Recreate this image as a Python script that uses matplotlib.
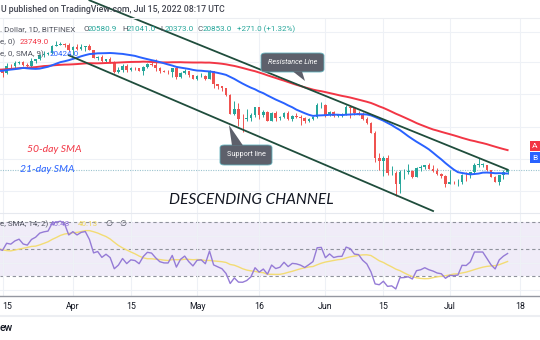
import numpy as np
import pandas as pd
import matplotlib
matplotlib.use("Agg")
import matplotlib.pyplot as plt
import matplotlib.dates as mdates
from matplotlib.patches import FancyBboxPatch, Polygon, Rectangle
from matplotlib.lines import Line2D
from matplotlib.ticker import NullLocator

plt.rcParams['font.family'] = ['Roboto', 'DejaVu Sans']

# BTC/USD daily (Bitfinex)
# closes before the visible window, only used for the averages and the RSI
pre_closes = [36280, 36660, 36960, 36830, 37160, 37710, 38170, 37920, 38490,
              38720, 36900, 37320, 41570, 41410, 42410, 43840, 44050, 44390, 43530,
              42380, 42220, 42060, 42560, 44550, 43950, 40560, 40010, 40120, 38370,
              37000, 38250, 37270, 38360, 39240, 39130, 37710, 43190,
              44420, 43920, 42460, 39150, 39400, 38420, 38020, 38740, 41980, 39440,
              38780, 38820, 37790]

start_date = '2022-03-14'
first_open = 37800
closes = [39670, 39280, 41120, 40920, 41760, 42220, 41250, 41030, 42350, 42910,
          43970, 44310, 44500, 46800, 47120, 47430, 47070, 45520,
          46310, 45830, 46410, 46600, 45500, 43200, 43440, 42290, 42800, 42150,
          39520, 40080, 41150, 39940, 40550, 40400, 39700, 40800, 41500, 41360,
          40480, 39710, 39470, 39450, 40430, 38120, 39240, 39740, 38600, 37650,
          38470, 38530, 37750, 39690, 36550, 36020, 35500, 34080, 30100, 31020,
          29100, 29030, 29300, 29850, 31320, 29900, 30420, 28700, 30300, 29200,
          29430, 30300, 29100, 29650, 29520, 29200, 28630, 29030, 29460, 31730,
          31800,
          29800, 30450, 29700, 29870, 29900, 31370, 31120, 30200, 30110, 29100,
          28400, 26600, 22500, 22130, 22600, 20400, 20470, 19000, 20580, 20600,
          20710, 19980, 21100, 21230, 21500, 21030, 20720, 20270, 20100, 19000,
          19300, 19250, 19300, 20230, 20200, 20550, 21600, 21600, 21600, 20850,
          19970, 19330, 20200, 20580, 20853]
highs = [39900, 39870, 41700, 41450, 42300, 42390, 42280, 41700, 43350, 43000,
         44250, 45100, 44790, 46900, 48190, 48100, 47700, 47600,
         46700, 47200, 47450, 46850, 47200, 45500, 43900, 43950, 42800, 43400,
         42400, 40700, 41550, 41500, 40850, 40700, 40600, 41100, 41750, 42150,
         42950, 40780, 39980, 39900, 40600, 40800, 39450, 40350, 39450, 38800,
         38650, 39150, 38650, 39900, 39800, 36600, 36100, 35500, 34240, 32650,
         32200, 30000, 30950, 30300, 31400, 31300, 30780, 30650, 30500, 30700,
         29600, 30450, 30650, 29800, 30150, 29850, 29350, 29200, 29500, 32200,
         32400,
         31950, 30650, 30650, 29950, 30150, 31750, 31550, 31300, 30650, 30350,
         29450, 28550, 26880, 23300, 22800, 22950, 21350, 20750, 20800, 21000,
         21700, 20850, 21200, 21500, 21550, 21850, 21500, 21150, 20400, 20150,
         20850, 19400, 19650, 20300, 20650, 20650, 21800, 22500, 21850, 21600,
         20850, 20050, 20250, 20850, 21041]
lows = [37600, 38100, 38900, 40550, 40200, 41500, 40950, 40500, 40880, 41850,
        42600, 43600, 44100, 44450, 46700, 46950, 46550, 45200,
        44200, 45650, 45600, 45150, 45400, 43150, 42750, 42150, 42150, 41900,
        39200, 39300, 39550, 39570, 39800, 40050, 39600, 38600, 40600, 40900,
        39800, 39200, 39340, 38950, 38200, 37750, 37900, 38900, 38200, 37600,
        37400, 38100, 37550, 37700, 35600, 35300, 34800, 33700, 30050, 29800,
        27700, 26700, 28750, 28600, 29450, 29100, 29450, 28600, 28700, 28750,
        28950, 29250, 28900, 28700, 29300, 28000, 28280, 28550, 28850, 29300,
        31250,
        29350, 29600, 29500, 29500, 29500, 29900, 29250, 29900, 29900, 28900,
        28100, 26550, 22000, 20850, 20100, 20250, 20250, 17600, 17950, 19700,
        20350, 19800, 19900, 20750, 20950, 20950, 20550, 20200, 19850, 18650,
        19000, 19000, 18800, 19050, 19350, 19800, 20300, 21200, 21300, 20700,
        19900, 19250, 18950, 19650, 20373]

# channel lines drawn on the chart (date, price)
upper_line_dates = ['2022-04-05', '2022-07-15']
upper_line_prices = [62900, 20900]
lower_line_dates = ['2022-03-31', '2022-06-27']
lower_line_prices = [43990, 15970]

tick_dates = ['2022-03-15', '2022-04-01', '2022-04-15', '2022-05-01', '2022-05-16',
              '2022-06-01', '2022-06-15', '2022-07-01', '2022-07-18']
tick_labels = ['15', 'Apr', '15', 'May', '16', 'Jun', '15', 'Jul', '18']
grid_prices = [51200, 42100, 34200, 27600, 22400, 18200]
rsi_grid = [20, 40, 60]
rsi_bands = [30, 50, 70]

UP, DOWN = '#26a69a', '#ef5350'
GREY = '#50535e'

W, H = 540, 340
fig = plt.figure(figsize=(W / 100, H / 100), dpi=100)


def fx(px):
    return px / W


def fy(py):
    return 1 - py / H


ax = fig.add_axes([0, fy(213), 1, (213 - 18) / H])
rx = fig.add_axes([0, fy(296), 1, (296 - 213) / H], sharex=ax)

# indicators
all_closes = pd.Series(pre_closes + closes, dtype=float)
n = len(closes)
sma50 = all_closes.rolling(50).mean().values[-n:]
sma21 = all_closes.rolling(21).mean().values[-n:]
delta = all_closes.diff()
gain = delta.clip(lower=0)
loss = -delta.clip(upper=0)
avg_gain = gain.ewm(alpha=1 / 14, adjust=False).mean()
avg_loss = loss.ewm(alpha=1 / 14, adjust=False).mean()
rsi = 100 - 100 / (1 + avg_gain / avg_loss)
rsi_ma = rsi.rolling(14).mean()
rsi = rsi.values[-n:]
rsi_ma = rsi_ma.values[-n:]

dates = pd.date_range(start_date, periods=n, freq='D')
x = mdates.date2num(dates)
o = np.array([first_open] + closes[:-1], dtype=float)
c = np.array(closes, dtype=float)
hi = np.array(highs, dtype=float)
lo = np.array(lows, dtype=float)
cols = [UP if cc >= oo else DOWN for oo, cc in zip(o, c)]

# price pane
ax.set_yscale('log')
ax.vlines(x, lo, hi, colors=cols, linewidth=0.7, zorder=3)
ax.bar(x, np.maximum(np.abs(c - o), c * 0.002), bottom=np.minimum(o, c), width=0.62,
       color=cols, linewidth=0, zorder=4)
ax.plot(x, sma50, color='#f23645', lw=1.4, zorder=5)
ax.plot(x, sma21, color='#2962ff', lw=1.4, zorder=5)
ax.plot(mdates.date2num(pd.to_datetime(upper_line_dates)), upper_line_prices,
        color='#1f4d3c', lw=1.3, zorder=6, clip_on=False)
ax.plot(mdates.date2num(pd.to_datetime(lower_line_dates)), lower_line_prices,
        color='#1f4d3c', lw=1.3, zorder=6)
ax.axhline(closes[-1], color='#9cc4cf', lw=0.8, ls=(0, (1, 1.2)), zorder=2)

d0 = mdates.date2num(pd.Timestamp('2022-03-15'))
ppd = 4.14
ax.set_xlim(d0 - 2.5 / ppd, d0 + 537.5 / ppd)
last = closes[-1]
ax.set_ylim(last * np.exp((170 - 213) / 153.7), last * np.exp((170 - 18) / 153.7))
ax.set_yticks(grid_prices)
ax.yaxis.set_minor_locator(NullLocator())
ax.set_xticks(mdates.date2num(pd.to_datetime(tick_dates)))
ax.grid(True, color='#eef1f6', lw=0.8, zorder=0)
ax.tick_params(left=False, labelleft=False, bottom=False, labelbottom=False)
for s in ax.spines.values():
    s.set_visible(False)

# RSI pane
rx.axhspan(rsi_bands[0], rsi_bands[-1], color='#7e57c2', alpha=0.11, lw=0, zorder=0)
for b in rsi_bands:
    rx.axhline(b, color='#8f929c', lw=0.8, ls=(0, (3, 2.5)), zorder=1)
rx.plot(x, rsi_ma, color='#f3dc74', lw=1.0, zorder=3)
rx.plot(x, rsi, color='#957bd6', lw=1.0, zorder=4)
rx.set_ylim(30 - (296 - 276) / 1.35, 70 + (222 - 213) / 1.35)
rx.set_yticks(rsi_grid)
rx.set_xticks(mdates.date2num(pd.to_datetime(tick_dates)))
rx.set_xticklabels(tick_labels)
rx.grid(True, color='#eef1f6', lw=0.8, zorder=0)
rx.tick_params(left=False, labelleft=False, bottom=False, length=0, pad=4,
               labelsize=6.3, labelcolor='#131722')
rx.get_xticklabels()[0].set_horizontalalignment('left')
for s in ['top', 'left', 'right']:
    rx.spines[s].set_visible(False)
rx.spines['bottom'].set_color('#9598a1')
rx.spines['bottom'].set_linewidth(1.0)

# separators
fig.add_artist(Line2D([0, 1], [fy(18), fy(18)], color='#eceef2', lw=0.8))
fig.add_artist(Line2D([0, 1], [fy(213), fy(213)], color='#e6e9ef', lw=0.8))
fig.add_artist(Line2D([0, 1], [fy(316), fy(316)], color='#eceef2', lw=1.5))

# header and legends
fig.text(fx(1), fy(10), 'U published on TradingView.com, Jul 15, 2022 08:17 UTC',
         fontsize=6.3, color='#434651', fontweight='medium', va='center', zorder=20)
fig.text(fx(0), fy(29), '. Dollar, 1D, BITFINEX', fontsize=5.8, color=GREY, va='center')
for lab, val, px in [('O', '20580.9', 83), ('H', '21041.0', 122),
                     ('L', '20373.0', 160), ('C', '20853.0', 198)]:
    fig.text(fx(px), fy(29), lab, fontsize=5.8, color=GREY, va='center')
    fig.text(fx(px + 5), fy(29), val, fontsize=5.8, color=UP, va='center')
fig.text(fx(237), fy(29), '+271.0 (+1.32%)', fontsize=5.8, color=UP, va='center')
fig.text(fx(0), fy(42), 'e, 0)', fontsize=5.8, color=GREY, va='center')
fig.text(fx(20), fy(42), '23749.0', fontsize=5.8, color='#f23645', va='center')
fig.text(fx(0), fy(54), 'e, 0, SMA, 9)', fontsize=5.8, color=GREY, va='center')
fig.text(fx(50), fy(54), '20424.0', fontsize=5.8, color='#2962ff', va='center')

fig.text(fx(0), fy(224), 'e, SMA, 14, 2)', fontsize=5.8, color=GREY, va='center')
fig.text(fx(50), fy(224), '46.48', fontsize=5.8, color='#8e71d4', va='center')
fig.text(fx(78), fy(224), '40.13', fontsize=5.8, color='#eed65c', va='center')
fig.text(fx(105), fy(224), '\u2205', fontsize=5.8, color=GREY, va='center')
fig.text(fx(119), fy(224), '\u2205', fontsize=5.8, color=GREY, va='center')

# annotations
fig.text(fx(27), fy(149), '50-day SMA', fontsize=7.5, color='#f23645',
         family='Lato', style='italic', va='center')
fig.text(fx(20), fy(170), '21-day SMA', fontsize=7.5, color='#2962ff',
         family='Lato', style='italic', va='center')
fig.text(fx(251), fy(200), 'DESCENDING CHANNEL', fontsize=11.2, color='#131722',
         family='Lato', style='italic', ha='center', va='center')


def callout(x0, y0, x1, y1, tri, text, italic):
    box = FancyBboxPatch((fx(x0), fy(y1)), fx(x1 - x0), (y1 - y0) / H,
                         boxstyle='round,pad=0,rounding_size=0.008',
                         transform=fig.transFigure, facecolor='#5d606b',
                         edgecolor='#62b2bd', lw=0.6, zorder=10)
    fig.add_artist(box)
    fig.add_artist(Polygon([(fx(a), fy(b)) for a, b in tri], closed=True,
                           transform=fig.transFigure, facecolor='#5d606b',
                           edgecolor='none', zorder=11))
    fig.text(fx((x0 + x1) / 2), fy((y0 + y1) / 2), text, fontsize=5.2, color='white',
             style='italic' if italic else 'normal', ha='center', va='center', zorder=12)


callout(261, 53, 324, 72, [(293, 71.5), (302, 71.5), (305, 81)], 'Resistance Line', True)
callout(220, 145, 272, 165, [(232, 145.5), (243, 145.5), (229, 125)], 'Support line', False)

# price scale labels cut at the right edge
fig.add_artist(Rectangle((fx(530), fy(151)), fx(12), 10 / H, transform=fig.transFigure,
                         facecolor='#f23645', edgecolor='none'))
fig.add_artist(Rectangle((fx(530), fy(163)), fx(12), 11 / H, transform=fig.transFigure,
                         facecolor='#2962ff', edgecolor='none'))
fig.text(fx(532), fy(146), 'A', fontsize=6, color='white', va='center')
fig.text(fx(532), fy(157.5), 'B', fontsize=6, color='white', va='center')

fig.text(fx(0), fy(328), 'ew', fontsize=7.5, color='#131722', fontweight='medium', va='center')

fig.savefig('out.png', dpi=100)
